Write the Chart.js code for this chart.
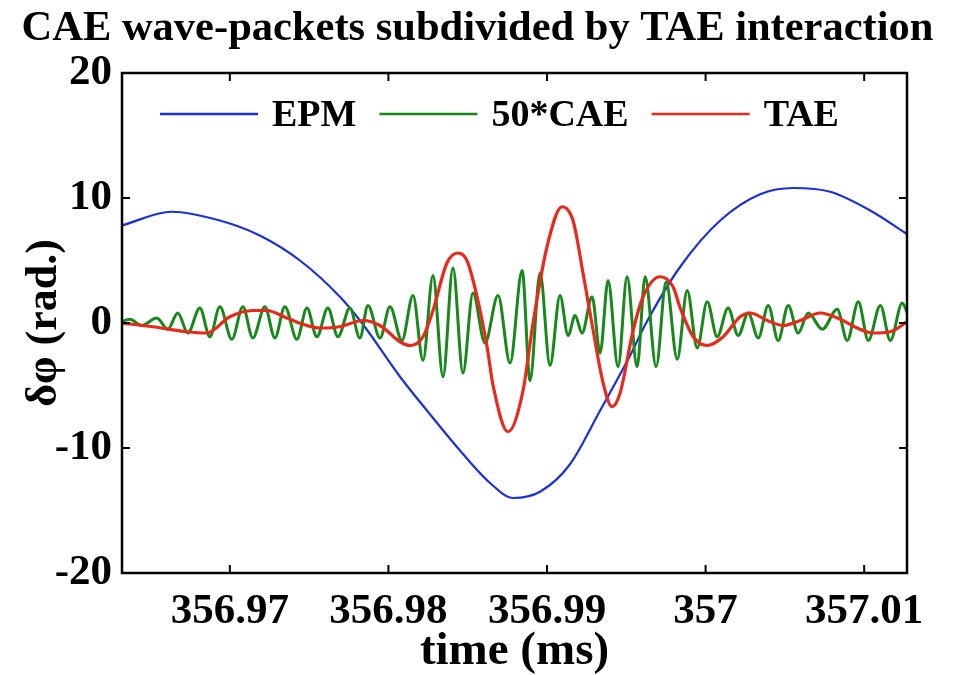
<!DOCTYPE html>
<html lang="en">
<head>
  <meta charset="UTF-8">
  <title>CAE wave-packets subdivided by TAE interaction</title>
  <script src="https://cdn.jsdelivr.net/npm/chart.js"></script>
  <style>
    html, body { margin: 0; padding: 0; background: #fff; }
  </style>
</head>
<body>
<canvas id="waveChart" width="955" height="675"></canvas>

<script>
  // time axis (ms)
  const xTickValues = [356.97, 356.98, 356.99, 357, 357.01];
  const xTickLabels = ['356.97', '356.98', '356.99', '357', '357.01'];
  const yTickValues = [-20, -10, 0, 10, 20];

  // EPM
  const epmTime = [356.96319, 356.96634, 356.96937, 356.97189, 356.97442, 356.97694, 356.97833,
    356.98073, 356.98262, 356.98451, 356.98641, 356.98786, 356.98956, 356.99145, 356.99335,
    356.99524, 356.99625, 356.99840, 357.00092, 357.00344, 357.00553, 357.00786, 357.01038, 357.01272];
  const epmValue = [7.8, 8.9, 8.2, 7.0, 5.0, 2.1, 0,
    -4.3, -7.3, -10.2, -12.8, -14.0, -13.5, -11.3, -7.0,
    -2.6, 0, 4.5, 8.2, 10.3, 10.8, 10.5, 9.0, 7.1];

  // CAE, scaled by 50
  const caeTime = [356.96319, 356.96369, 356.96445, 356.96539, 356.96609, 356.96672, 356.96735,
    356.96811, 356.96874, 356.96937, 356.97013, 356.97082, 356.97145, 356.97221, 356.97284,
    356.97347, 356.97423, 356.97486, 356.97549, 356.97618, 356.97682, 356.97757, 356.97820,
    356.97871, 356.97947, 356.98010, 356.98085, 356.98155, 356.98218, 356.98281, 356.98344,
    356.98407, 356.98470, 356.98533, 356.98609, 356.98691, 356.98767, 356.98843, 356.98893,
    356.98956, 356.99019, 356.99082, 356.99133, 356.99177, 356.99221, 356.99284, 356.99335,
    356.99385, 356.99448, 356.99505, 356.99568, 356.99619, 356.99688, 356.99751, 356.99821,
    356.99884, 356.99947, 357.00010, 357.00073, 357.00142, 357.00206, 357.00269, 357.00332,
    357.00395, 357.00458, 357.00521, 357.00584, 357.00647, 357.00736, 357.00830, 357.00893,
    357.00963, 357.01026, 357.01102, 357.01165, 357.01240, 357.01272];
  const caeValue = [0.1, 0.3, -0.2, 0.4, -0.5, 0.8, -0.8,
    1.2, -1.1, 1.3, -1.3, 1.3, -1.2, 1.3, -1.2,
    1.3, -1.3, 1.2, -1.1, 1.2, -1.1, 1.2, -1.2,
    1.4, -1.2, 1.3, -1.4, 2.2, -3.0, 3.8, -4.3,
    4.4, -4.0, 2.4, -1.6, 2.2, -3.2, 4.2, -4.6,
    4.0, -3.4, 2.2, -1.0, 0.6, -0.8, 2.1, -2.4,
    3.4, -3.5, 3.7, -3.5, 3.7, -3.5, 3.3, -2.9,
    2.6, -2.0, 1.7, -1.1, 1.2, -1.0, 0.8, -1.2,
    1.4, -1.4, 1.4, -0.8, 0.8, -0.5, 1.1, -1.4,
    1.7, -1.4, 1.4, -1.4, 1.6, 0.8];

  // TAE
  const taeTime = [356.96319, 356.96514, 356.96729, 356.96855, 356.97000, 356.97145, 356.97233,
    356.97360, 356.97486, 356.97568, 356.97694, 356.97839, 356.97947, 356.98073, 356.98136,
    356.98218, 356.98281, 356.98369, 356.98439, 356.98495, 356.98559, 356.98622, 356.98660,
    356.98754, 356.98849, 356.98912, 356.99000, 356.99095, 356.99164, 356.99227, 356.99291,
    356.99354, 356.99410, 356.99461, 356.99543, 356.99606, 356.99713, 356.99795, 356.99840,
    356.99922, 357.00010, 357.00111, 357.00218, 357.00281, 357.00389, 357.00489, 357.00597,
    357.00723, 357.00849, 357.00956, 357.01057, 357.01165, 357.01272];
  const taeValue = [0, -0.3, -0.7, -0.8, 0.5, 1.0, 1.0,
    0.4, -0.2, -0.4, -0.3, 0.2, -0.2, -1.5, -1.8,
    -1.1, 1.0, 4.8, 5.6, 5.0, 2.1, -1.9, -5.0,
    -8.7, -5.4, 0, 6.1, 9.3, 8.2, 4.0, -0.6,
    -4.8, -6.7, -5.6, -0.6, 2.1, 3.7, 2.9, 1.2,
    -1.1, -1.8, -1.1, 0.5, 0.8, 0.2, -0.2, 0.2,
    0.8, 0.3, -0.4, -0.8, -0.7, 0.1];

  const serif = "'Liberation Serif', 'Times New Roman', serif";
  const toPoints = (ts, vs) => ts.map((t, i) => ({ x: t, y: vs[i] }));

  // box around the plot with inward tick marks on all four sides
  const frameTicks = {
    id: 'frameTicks',
    afterDraw(chart) {
      const { ctx, chartArea: a, scales: { x, y } } = chart;
      const len = 8;
      ctx.save();
      ctx.strokeStyle = '#000';
      ctx.lineWidth = 2;
      ctx.beginPath();
      x.ticks.forEach(t => {
        const px = x.getPixelForValue(t.value);
        ctx.moveTo(px, a.bottom); ctx.lineTo(px, a.bottom - len);
        ctx.moveTo(px, a.top); ctx.lineTo(px, a.top + len);
      });
      y.ticks.forEach(t => {
        const py = y.getPixelForValue(t.value);
        ctx.moveTo(a.left, py); ctx.lineTo(a.left + len, py);
        ctx.moveTo(a.right, py); ctx.lineTo(a.right - len, py);
      });
      ctx.stroke();
      ctx.lineWidth = 2.5;
      ctx.strokeRect(a.left, a.top, a.right - a.left, a.bottom - a.top);
      ctx.restore();
    }
  };

  // one-row legend inside the top of the plot
  const insideLegend = {
    id: 'insideLegend',
    afterDatasetsDraw(chart) {
      const { ctx, chartArea: a } = chart;
      const lineLen = 98, gap = 14, spacing = 23;
      const y = a.top + 41;
      let x = a.left + 38;
      ctx.save();
      ctx.font = 'bold 38px ' + serif;
      ctx.textBaseline = 'middle';
      ctx.textAlign = 'left';
      chart.data.datasets.forEach(ds => {
        ctx.strokeStyle = ds.borderColor;
        ctx.lineWidth = 2.5;
        ctx.beginPath();
        ctx.moveTo(x, y);
        ctx.lineTo(x + lineLen, y);
        ctx.stroke();
        x += lineLen + gap;
        ctx.fillStyle = '#000';
        ctx.fillText(ds.label, x, y + 2);
        x += ctx.measureText(ds.label).width + spacing;
      });
      ctx.restore();
    }
  };

  const ctx = document.getElementById('waveChart').getContext('2d');
  const waveChart = new Chart(ctx, {
    type: 'line',
    data: {
      datasets: [
        {
          label: 'EPM',
          data: toPoints(epmTime, epmValue),
          borderColor: '#1b30d8',
          borderWidth: 2.2,
          order: 3
        },
        {
          label: '50*CAE',
          data: toPoints(caeTime, caeValue),
          borderColor: '#17881a',
          borderWidth: 3,
          order: 2
        },
        {
          label: 'TAE',
          data: toPoints(taeTime, taeValue),
          borderColor: '#e82a1c',
          borderWidth: 3.2,
          order: 1
        }
      ]
    },
    options: {
      responsive: false,
      animation: false,
      layout: { padding: 0 },
      elements: {
        point: { radius: 0 },
        line: { cubicInterpolationMode: 'monotone', fill: false }
      },
      scales: {
        x: {
          type: 'linear',
          min: 356.9632,
          max: 357.0127,
          afterBuildTicks: scale => { scale.ticks = xTickValues.map(v => ({ value: v })); },
          afterFit: scale => { scale.height = 102; },
          grid: { display: false, drawTicks: false },
          border: { display: false },
          ticks: {
            color: '#000',
            padding: 13,
            maxRotation: 0,
            font: { family: serif, size: 43, weight: 'bold' },
            callback: (v, i) => xTickLabels[i]
          },
          title: {
            display: true,
            text: 'time (ms)',
            color: '#000',
            padding: 0,
            font: { family: serif, size: 47, weight: 'bold', lineHeight: 1.0 }
          }
        },
        y: {
          min: -20,
          max: 20,
          afterBuildTicks: scale => { scale.ticks = yTickValues.map(v => ({ value: v })); },
          afterFit: scale => { scale.width = 122; },
          grid: { display: false, drawTicks: false },
          border: { display: false },
          ticks: {
            color: '#000',
            padding: 10,
            font: { family: serif, size: 43, weight: 'bold' }
          },
          title: {
            display: true,
            text: 'δφ (rad.)',
            color: '#000',
            padding: { top: 18, bottom: 0 },
            font: { family: serif, size: 44, weight: 'bold' }
          }
        },
        // empty right axis, only keeps space on the right of the plot
        y2: {
          position: 'right',
          min: -20,
          max: 20,
          afterFit: scale => { scale.width = 48; },
          grid: { display: false, drawTicks: false },
          border: { display: false },
          ticks: { display: false }
        }
      },
      plugins: {
        title: {
          display: true,
          text: 'CAE wave-packets subdivided by TAE interaction',
          color: '#000',
          padding: { top: 4, bottom: 18 },
          font: { family: serif, size: 42.5, weight: 'bold' }
        },
        legend: { display: false },
        tooltip: { enabled: false }
      }
    },
    plugins: [frameTicks, insideLegend]
  });
</script>
</body>
</html>
